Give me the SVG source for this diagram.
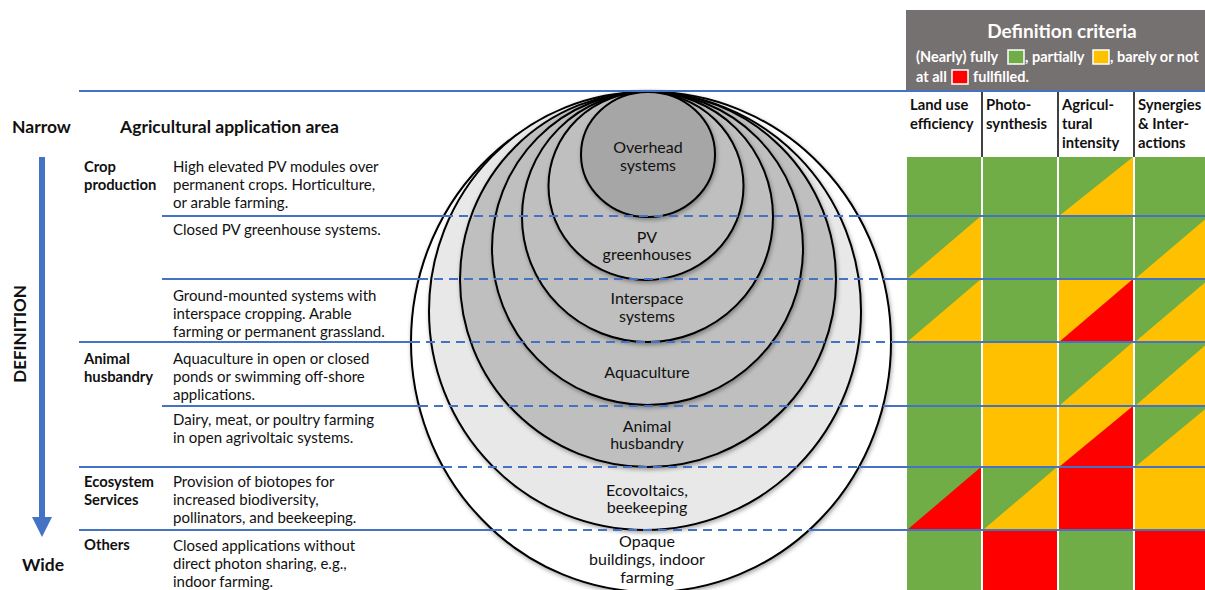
<svg xmlns="http://www.w3.org/2000/svg" width="1205" height="590" viewBox="0 0 1205 590">
<style>
.t{font-family:Lato,"Liberation Sans",sans-serif;font-size:15px;fill:#111}
.b{font-family:Lato,"Liberation Sans",sans-serif;font-weight:bold;font-size:14.8px;fill:#111}
.h{font-family:Lato,"Liberation Sans",sans-serif;font-weight:bold;font-size:17.5px;fill:#111}
.w{font-family:Lato,"Liberation Sans",sans-serif;font-weight:bold;font-size:14.5px;fill:#fff}
.c{font-family:Lato,"Liberation Sans",sans-serif;font-size:16px;fill:#111;text-anchor:middle}
.el{stroke:#000;stroke-width:2;filter:url(#sh)}
.sl{stroke:#4472c4;stroke-width:2;fill:none}
.dl{stroke:#4472c4;stroke-width:2;stroke-dasharray:9 6;fill:none}
.G{fill:#70ad47}.Y{fill:#ffc000}.R{fill:#ff0000}
</style>
<defs>
<filter id="sh" x="-10%" y="-10%" width="120%" height="120%">
<feDropShadow dx="1" dy="2" stdDeviation="2" flood-color="#000" flood-opacity="0.35"/>
</filter>
</defs>
<rect width="1205" height="590" fill="#fff"/>

<g id="header">
<rect x="906" y="10" width="299" height="81" fill="#767171"/>
<text x="1062" y="38" text-anchor="middle" style="font-family:Lato,'Liberation Sans',sans-serif;font-weight:bold;font-size:19px;fill:#fff">Definition criteria</text>
<text class="w" x="916" y="62">(Nearly) fully</text>
<rect x="1008" y="50" width="16" height="14" class="G" stroke="#fff" stroke-width="1.5"/>
<text class="w" x="1025" y="62">, partially</text>
<rect x="1093" y="50" width="16" height="14" class="Y" stroke="#fff" stroke-width="1.5"/>
<text class="w" x="1110" y="62">, barely or not</text>
<text class="w" x="916" y="82">at all</text>
<rect x="952" y="70" width="16" height="14" class="R" stroke="#fff" stroke-width="1.5"/>
<text class="w" x="973" y="82">fullfilled.</text>
</g>

<g id="col-headers">
<line x1="982" y1="91" x2="982" y2="157" stroke="#404040" stroke-width="2"/>
<line x1="1058" y1="91" x2="1058" y2="157" stroke="#404040" stroke-width="2"/>
<line x1="1134" y1="91" x2="1134" y2="157" stroke="#404040" stroke-width="2"/>
<text class="b" x="910" y="110">Land use</text>
<text class="b" x="910" y="129">efficiency</text>
<text class="b" x="986" y="110">Photo-</text>
<text class="b" x="986" y="129">synthesis</text>
<text class="b" x="1062" y="110">Agricul-</text>
<text class="b" x="1062" y="129">tural</text>
<text class="b" x="1062" y="148">intensity</text>
<text class="b" x="1138" y="110">Synergies</text>
<text class="b" x="1138" y="129">&amp; Inter-</text>
<text class="b" x="1138" y="148">actions</text>
</g>

<g id="grid">
<rect class="G" x="907" y="157" width="74" height="59"/>
<rect class="G" x="983" y="157" width="74" height="59"/>
<rect class="G" x="1059" y="157" width="74" height="59"/><polygon class="Y" points="1059,216 1133,157 1133,216"/>
<rect class="G" x="1135" y="157" width="74" height="59"/>
<rect class="G" x="907" y="216" width="74" height="63"/><polygon class="Y" points="907,279 981,216 981,279"/>
<rect class="G" x="983" y="216" width="74" height="63"/>
<rect class="G" x="1059" y="216" width="74" height="63"/>
<rect class="G" x="1135" y="216" width="74" height="63"/><polygon class="Y" points="1135,279 1209,216 1209,279"/>
<rect class="G" x="907" y="279" width="74" height="63"/><polygon class="Y" points="907,342 981,279 981,342"/>
<rect class="G" x="983" y="279" width="74" height="63"/>
<rect class="Y" x="1059" y="279" width="74" height="63"/><polygon class="R" points="1059,342 1133,279 1133,342"/>
<rect class="G" x="1135" y="279" width="74" height="63"/><polygon class="Y" points="1135,342 1209,279 1209,342"/>
<rect class="G" x="907" y="342" width="74" height="64"/>
<rect class="Y" x="983" y="342" width="74" height="64"/>
<rect class="G" x="1059" y="342" width="74" height="64"/><polygon class="Y" points="1059,406 1133,342 1133,406"/>
<rect class="G" x="1135" y="342" width="74" height="64"/><polygon class="Y" points="1135,406 1209,342 1209,406"/>
<rect class="G" x="907" y="406" width="74" height="61"/>
<rect class="Y" x="983" y="406" width="74" height="61"/>
<rect class="Y" x="1059" y="406" width="74" height="61"/><polygon class="R" points="1059,467 1133,406 1133,467"/>
<rect class="G" x="1135" y="406" width="74" height="61"/><polygon class="Y" points="1135,467 1209,406 1209,467"/>
<rect class="G" x="907" y="467" width="74" height="63"/><polygon class="R" points="907,530 981,467 981,530"/>
<rect class="G" x="983" y="467" width="74" height="63"/><polygon class="Y" points="983,530 1057,467 1057,530"/>
<rect class="R" x="1059" y="467" width="74" height="63"/>
<rect class="Y" x="1135" y="467" width="74" height="63"/>
<rect class="G" x="907" y="530" width="74" height="60"/>
<rect class="R" x="983" y="530" width="74" height="60"/>
<rect class="G" x="1059" y="530" width="74" height="60"/>
<rect class="R" x="1135" y="530" width="74" height="60"/>
</g>

<g id="circle-others"><ellipse class="el" cx="651" cy="342" rx="240" ry="250" fill="#fff"/></g>
<g id="circle-ecovoltaics"><ellipse class="el" cx="645" cy="311" rx="216" ry="219" fill="#e8e8e8"/></g>
<g id="circle-animal"><ellipse class="el" cx="648" cy="279.5" rx="188" ry="187.5" fill="#bfbfbf"/></g>
<g id="circle-aquaculture"><ellipse class="el" cx="647.5" cy="248.5" rx="155.5" ry="156.5" fill="#bfbfbf"/></g>
<g id="circle-interspace"><ellipse class="el" cx="647.5" cy="217" rx="125.5" ry="125" fill="#bfbfbf"/></g>
<g id="circle-greenhouses"><ellipse class="el" cx="646" cy="186" rx="97.5" ry="94" fill="#bfbfbf"/></g>
<g id="circle-overhead"><ellipse class="el" cx="648" cy="154.5" rx="67" ry="62.5" fill="#a6a6a6"/></g>

<g id="connectors">
<line class="sl" x1="79" y1="91" x2="1205" y2="91"/>
<line class="sl" x1="162" y1="216" x2="444" y2="216"/><line class="dl" x1="444" y1="216" x2="858" y2="216"/><line class="sl" x1="858" y1="216" x2="1205" y2="216"/>
<line class="sl" x1="162" y1="279" x2="419" y2="279"/><line class="dl" x1="419" y1="279" x2="883" y2="279"/><line class="sl" x1="883" y1="279" x2="1205" y2="279"/>
<line class="sl" x1="79" y1="342" x2="411" y2="342"/><line class="dl" x1="411" y1="342" x2="891" y2="342"/><line class="sl" x1="891" y1="342" x2="1205" y2="342"/>
<line class="sl" x1="162" y1="406" x2="419" y2="406"/><line class="dl" x1="419" y1="406" x2="883" y2="406"/><line class="sl" x1="883" y1="406" x2="1205" y2="406"/>
<line class="sl" x1="79" y1="467" x2="443" y2="467"/><line class="dl" x1="443" y1="467" x2="859" y2="467"/><line class="sl" x1="859" y1="467" x2="1205" y2="467"/>
<line class="sl" x1="79" y1="530" x2="493" y2="530"/><line class="dl" x1="493" y1="530" x2="809" y2="530"/><line class="sl" x1="809" y1="530" x2="1205" y2="530"/>
<line x1="42" y1="157" x2="42" y2="520" stroke="#4472c4" stroke-width="6"/>
<polygon points="32,517 52,517 42,537" fill="#4472c4"/>
</g>

<g id="circle-labels">
<text class="c" x="648" y="153">Overhead</text><text class="c" x="648" y="171">systems</text>
<text class="c" x="647" y="243">PV</text><text class="c" x="647" y="260">greenhouses</text>
<text class="c" x="647" y="304">Interspace</text><text class="c" x="647" y="322">systems</text>
<text class="c" x="647" y="378">Aquaculture</text>
<text class="c" x="647" y="432">Animal</text><text class="c" x="647" y="449">husbandry</text>
<text class="c" x="647" y="496">Ecovoltaics,</text><text class="c" x="647" y="513">beekeeping</text>
<text class="c" x="647" y="547">Opaque</text><text class="c" x="647" y="565">buildings, indoor</text><text class="c" x="647" y="583">farming</text>
</g>

<g id="axis">
<text class="h" x="12" y="133">Narrow</text>
<text class="h" x="22" y="571">Wide</text>
<text class="h" transform="translate(26,334) rotate(-90)" text-anchor="middle" style="font-size:17px">DEFINITION</text>
<text class="h" x="120" y="133">Agricultural application area</text>
</g>
<g id="row-crop">
<text class="b" x="84" y="172">Crop</text><text class="b" x="84" y="190">production</text>
<text class="t" x="173" y="172">High elevated PV modules over</text>
<text class="t" x="173" y="190">permanent crops. Horticulture,</text>
<text class="t" x="173" y="208">or arable farming.</text>
<text class="t" x="173" y="235">Closed PV greenhouse systems.</text>
<text class="t" x="173" y="301">Ground-mounted systems with</text>
<text class="t" x="173" y="319">interspace cropping. Arable</text>
<text class="t" x="173" y="337">farming or permanent grassland.</text>
</g>
<g id="row-animal">
<text class="b" x="84" y="364">Animal</text><text class="b" x="84" y="382">husbandry</text>
<text class="t" x="173" y="364">Aquaculture in open or closed</text>
<text class="t" x="173" y="382">ponds or swimming off-shore</text>
<text class="t" x="173" y="400">applications.</text>
<text class="t" x="173" y="425">Dairy, meat, or poultry farming</text>
<text class="t" x="173" y="443">in open agrivoltaic systems.</text>
</g>
<g id="row-ecosystem">
<text class="b" x="84" y="487">Ecosystem</text><text class="b" x="84" y="505">Services</text>
<text class="t" x="173" y="487">Provision of biotopes for</text>
<text class="t" x="173" y="505">increased biodiversity,</text>
<text class="t" x="173" y="523">pollinators, and beekeeping.</text>
</g>
<g id="row-others">
<text class="b" x="84" y="550">Others</text>
<text class="t" x="173" y="551">Closed applications without</text>
<text class="t" x="173" y="569">direct photon sharing, e.g.,</text>
<text class="t" x="173" y="587">indoor farming.</text>
</g>
</svg>
